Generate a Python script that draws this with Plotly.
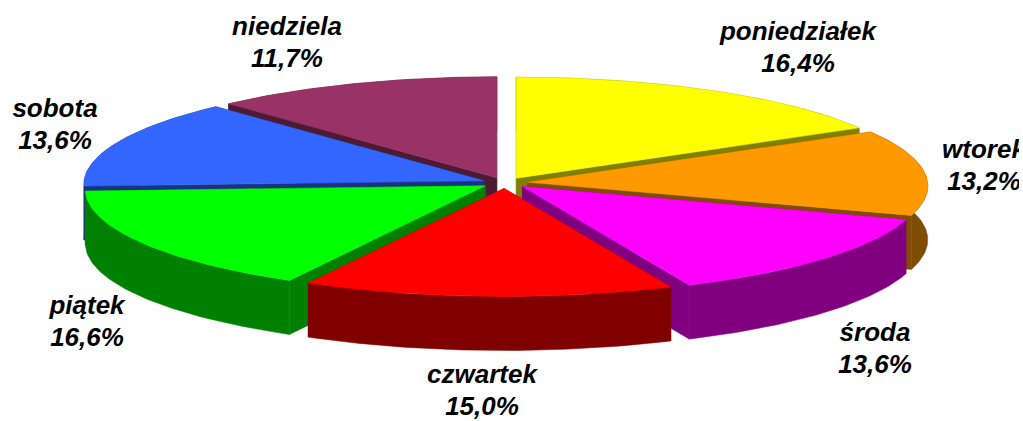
import math
import plotly.graph_objects as go

days = ["poniedziałek", "wtorek", "środa", "czwartek", "piątek", "sobota", "niedziela"]
shares = [16.4, 13.2, 13.6, 15.0, 16.6, 13.6, 11.7]
share_labels = ["16,4%", "13,2%", "13,6%", "15,0%", "16,6%", "13,6%", "11,7%"]
top_colors = ["#ffff00", "#ff9900", "#ff00ff", "#ff0000", "#00ff00", "#3366ff", "#993366"]
side_colors = ["#808000", "#804d00", "#800080", "#800000", "#008000", "#1a3380", "#4d1a33"]

# projection of the 3D pie
CX, CY = 505, 183
RX, RY, RIM_DROP = 400, 104.5, 3.5
EX, EY = 23, 5.5
DEPTH = 54
LINE_GAP = 16
label_xy = [(798, 49.5), (984, 167.5), (875, 350), (482, 392.5), (87, 323), (55, 126), (287, 44)]


def project(a, ax, ay):
    return ax + RX * math.sin(a), ay + RIM_DROP - RY * math.cos(a)


def poly(fig, pts, color):
    fig.add_trace(go.Scatter(
        x=[p[0] for p in pts] + [pts[0][0]], y=[p[1] for p in pts] + [pts[0][1]],
        mode="lines", fill="toself", fillcolor=color,
        line=dict(width=0.5, color=color), hoverinfo="skip", showlegend=False))


total = sum(shares)
slices = []
cum = 0.0
for i, v in enumerate(shares):
    a0 = 2 * math.pi * cum / total
    cum += v
    a1 = 2 * math.pi * cum / total
    mid = (a0 + a1) / 2
    ax, ay = CX + EX * math.sin(mid), CY - EY * math.cos(mid)
    slices.append((math.cos(mid), i, a0, a1, ax, ay))

fig = go.Figure()
for _, i, a0, a1, ax, ay in sorted(slices, key=lambda s: -s[0]):
    n = 60
    arc = [project(a0 + (a1 - a0) * k / n, ax, ay) for k in range(n + 1)]
    top = [(ax, ay)] + arc
    lower = [(x, y + DEPTH) for x, y in top]
    # radial cut faces and outer wall
    poly(fig, [top[0], top[1], lower[1], lower[0]], side_colors[i])
    poly(fig, [top[0], top[-1], lower[-1], lower[0]], side_colors[i])
    poly(fig, arc + [(x, y + DEPTH) for x, y in reversed(arc)], side_colors[i])
    poly(fig, top, top_colors[i])

label_font = dict(family="Liberation Sans", size=26, color="black", weight="bold", style="italic")
for texts, shift in ((days, -LINE_GAP), (share_labels, LINE_GAP)):
    fig.add_trace(go.Scatter(
        x=[p[0] for p in label_xy], y=[p[1] + shift for p in label_xy],
        mode="text", text=texts, textposition="middle center", cliponaxis=True,
        textfont=label_font, hoverinfo="skip", showlegend=False))

fig.update_layout(
    width=1023, height=421, margin=dict(l=0, r=4, t=0, b=0),
    paper_bgcolor="white", plot_bgcolor="white", showlegend=False,
    xaxis=dict(range=[0, 1019], visible=False),
    yaxis=dict(range=[421, 0], visible=False),
)
fig.write_html("out.html", config={"displayModeBar": False},
               post_script="document.body.style.margin='0';")
